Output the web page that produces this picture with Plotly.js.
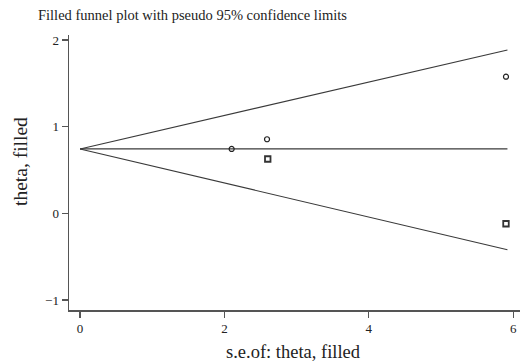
<!DOCTYPE html>
<html>
<head>
<meta charset="utf-8">
<script src="https://cdn.plot.ly/plotly-3.0.1.min.js"></script>
<style>html,body{margin:0;padding:0;background:#fff;}#chart{width:520px;height:363px;}</style>
</head>
<body>
<div id="chart"></div>
<script>
// Funnel limits
const funnelSE = [0, 5.92];
const funnelCenter = [0.743, 0.743];
const funnelUpper = [0.743, 1.885];
const funnelLower = [0.743, -0.42];

// Observed studies (circles)
const obsSE = [2.10, 2.59, 5.90];
const obsTheta = [0.743, 0.855, 1.577];

// Filled (imputed) studies (squares)
const fillSE = [2.60, 5.90];
const fillTheta = [0.627, -0.12];

const xTicks = [0, 2, 4, 6];
const yTicks = [-1, 0, 1, 2];

const lineStyle = {color: '#3a3a3a', width: 1.2};
const traces = [
  {x: funnelSE, y: funnelUpper, mode: 'lines', line: lineStyle, hoverinfo: 'skip'},
  {x: funnelSE, y: funnelCenter, mode: 'lines', line: lineStyle, hoverinfo: 'skip'},
  {x: funnelSE, y: funnelLower, mode: 'lines', line: lineStyle, hoverinfo: 'skip'},
  {x: obsSE, y: obsTheta, mode: 'markers',
   marker: {symbol: 'circle-open', size: 5, color: '#222', line: {width: 1.2, color: '#222'}}},
  {x: fillSE, y: fillTheta, mode: 'markers',
   marker: {symbol: 'square-open', size: 5.5, color: '#333', line: {width: 1.8, color: '#333'}}}
];

const fontFam = '"Liberation Serif", "DejaVu Serif", serif';
const layout = {
  width: 520, height: 363,
  margin: {l: 69, r: 0, t: 35, b: 53},
  paper_bgcolor: '#fff', plot_bgcolor: '#fff',
  showlegend: false,
  font: {family: fontFam, color: '#222', size: 12},
  title: {text: 'Filled funnel plot with pseudo 95% confidence limits',
          font: {family: fontFam, size: 14.5, color: '#222'},
          x: 38/520, xanchor: 'left', xref: 'container',
          y: 1 - 15/363, yanchor: 'middle', yref: 'container'},
  xaxis: {
    range: [-0.153, 6.094], showgrid: false, zeroline: false,
    showline: true, linecolor: '#555', linewidth: 1.5,
    ticks: 'outside', ticklen: 6, tickwidth: 1.2, tickcolor: '#555',
    tickvals: xTicks, ticktext: xTicks.map(String),
    tickfont: {family: fontFam, size: 13, color: '#222'}
  },
  yaxis: {
    range: [-1.115, 2.058], showgrid: false, zeroline: false,
    showline: true, linecolor: '#555', linewidth: 1.5,
    ticks: 'outside', ticklen: 6, tickwidth: 1.2, tickcolor: '#555',
    tickvals: yTicks, ticktext: yTicks.map(v => v < 0 ? '\u2212' + Math.abs(v) : String(v)),
    tickfont: {family: fontFam, size: 13, color: '#222'}
  },
  annotations: [
    {text: 's.e.of: theta, filled', xref: 'paper', yref: 'paper',
     x: (293 - 69) / 451, y: -(352 - 310) / 275, xanchor: 'center', yanchor: 'middle',
     showarrow: false, font: {family: fontFam, size: 18.5, color: '#222'}},
    {text: 'theta, filled', xref: 'paper', yref: 'paper', textangle: -90,
     x: -(69 - 20) / 451, y: (310 - 162) / 275, xanchor: 'center', yanchor: 'middle',
     showarrow: false, font: {family: fontFam, size: 19.5, color: '#222'}}
  ]
};

Plotly.newPlot('chart', traces, layout, {staticPlot: true, displayModeBar: false});
</script>
</body>
</html>
